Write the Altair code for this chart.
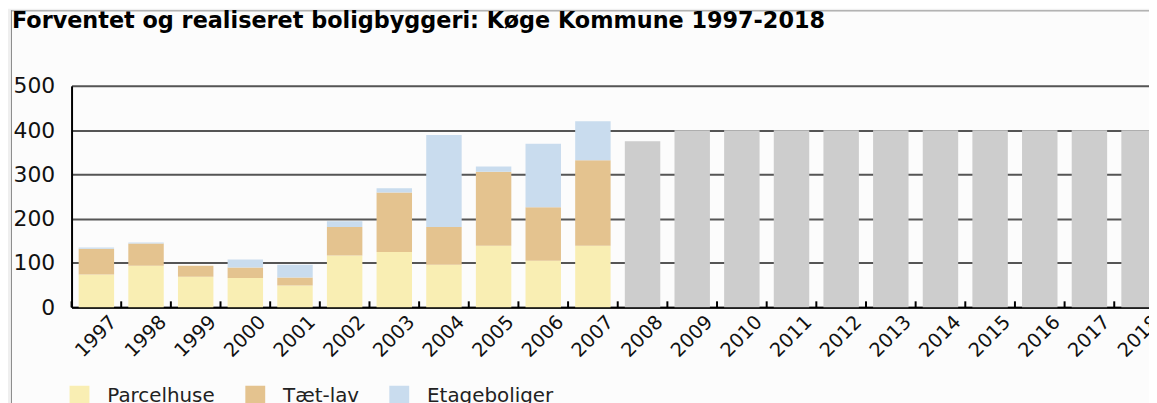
import altair as alt
import pandas as pd

# ---- data ----
years = ["1997", "1998", "1999", "2000", "2001", "2002", "2003", "2004", "2005",
         "2006", "2007", "2008", "2009", "2010", "2011", "2012", "2013", "2014",
         "2015", "2016", "2017", "2018"]
realized_years = years[:11]
parcelhuse = [74, 94, 69, 66, 49, 117, 125, 96, 139, 105, 139]
taet_lav = [58, 50, 25, 24, 18, 64, 134, 85, 167, 121, 193]
etageboliger = [3, 2, 0, 18, 29, 13, 10, 208, 12, 143, 88]
forecast_years = years[11:]
forventet = [375, 400, 400, 400, 400, 400, 400, 400, 400, 400, 400]
y_ticks = [0, 100, 200, 300, 400, 500]
title_text = "Forventet og realiseret boligbyggeri: Køge Kommune 1997-2018"

series_names = ["Parcelhuse", "Tæt-lav", "Etageboliger", "Forventet"]
series_colors = ["#f9eeb3", "#e4c38f", "#c9dcee", "#cdcdcd"]

rows = []
for i, yr in enumerate(realized_years):
    rows.append(dict(year=yr, serie="Parcelhuse", value=parcelhuse[i], order=0))
    rows.append(dict(year=yr, serie="Tæt-lav", value=taet_lav[i], order=1))
    rows.append(dict(year=yr, serie="Etageboliger", value=etageboliger[i], order=2))
for yr, v in zip(forecast_years, forventet):
    rows.append(dict(year=yr, serie="Forventet", value=v, order=3))
df = pd.DataFrame(rows)

W, H = 1085, 223
FONT = "DejaVu Sans"
PAD_IN, PAD_OUT = 0.286, 0.143
x_scale = alt.Scale(domain=years, range=[0, 1100], paddingInner=PAD_IN, paddingOuter=PAD_OUT)
STEP = 1100 / len(years)

one = alt.Data(values=[{"t": title_text}])

outer_left = alt.Chart(one).mark_rule(stroke="#efefef", strokeWidth=3).encode(
    x=alt.value(-62.5), y=alt.value(-77), y2=alt.value(330)
)
outer_top = alt.Chart(one).mark_rule(stroke="#efefef", strokeWidth=1).encode(
    x=alt.value(-64), x2=alt.value(1100), y=alt.value(-76.8)
)
frame_left = alt.Chart(one).mark_rule(stroke="#8a8a8a", strokeWidth=1).encode(
    x=alt.value(-60.5), y=alt.value(-76), y2=alt.value(330)
)
frame_top = alt.Chart(one).mark_rule(stroke="#8a8a8a", strokeWidth=1).encode(
    x=alt.value(-61), x2=alt.value(1100), y=alt.value(-75.5)
)
title = alt.Chart(one).mark_text(
    align="left", baseline="alphabetic", fontSize=22.5, fontWeight="bold",
    font=FONT, color="black"
).encode(text="t:N", x=alt.value(-60), y=alt.value(-58))

bars = alt.Chart(df).mark_bar().encode(
    x=alt.X(
        "year:N",
        sort=years,
        scale=x_scale,
        axis=alt.Axis(
            title=None, labelAngle=-45, labelFontSize=19.5, labelOffset=11, labelPadding=5,
            ticks=False, domainColor="black", domainWidth=2, grid=False,
            labelColor="#111111",
        ),
    ),
    y=alt.Y(
        "value:Q",
        stack="zero",
        scale=alt.Scale(domain=[0, 500], nice=False),
        axis=alt.Axis(
            title=None, values=y_ticks, grid=True, gridColor="#555555", gridWidth=2,
            ticks=False, domainColor="black", domainWidth=2, labelFontSize=22,
            labelPadding=17, labelColor="#111111",
        ),
    ),
    color=alt.Color(
        "serie:N",
        scale=alt.Scale(domain=series_names, range=series_colors),
        legend=alt.Legend(
            values=series_names[:3], title=None, orient="none", direction="horizontal",
            legendX=-2, legendY=302, symbolType="square", symbolSize=400,
            symbolStrokeWidth=0, labelFontSize=20, labelOffset=18, columnPadding=30,
            labelColor="#222222",
        ),
    ),
    order=alt.Order("order:Q"),
)

# inward tick marks at the boundaries between the year cells
tick_data = alt.Data(values=[{"year": y} for y in years])
ticks = alt.Chart(tick_data).mark_rule(
    color="black", strokeWidth=2, xOffset=-STEP * PAD_OUT
).encode(
    x=alt.X("year:N", sort=years, scale=x_scale, bandPosition=0),
    y=alt.value(H - 6),
    y2=alt.value(H),
)

chart = alt.layer(outer_left, outer_top, frame_left, frame_top, title, bars, ticks).properties(
    width=W,
    height=H,
    autosize=alt.AutoSizeParams(type="none"),
    padding={"left": 64, "top": 77, "right": 0, "bottom": 95},
    background="#fcfcfc",
).configure(font=FONT).configure_view(strokeWidth=0)

chart.save("out.html", embed_options={"renderer": "svg", "actions": False})
